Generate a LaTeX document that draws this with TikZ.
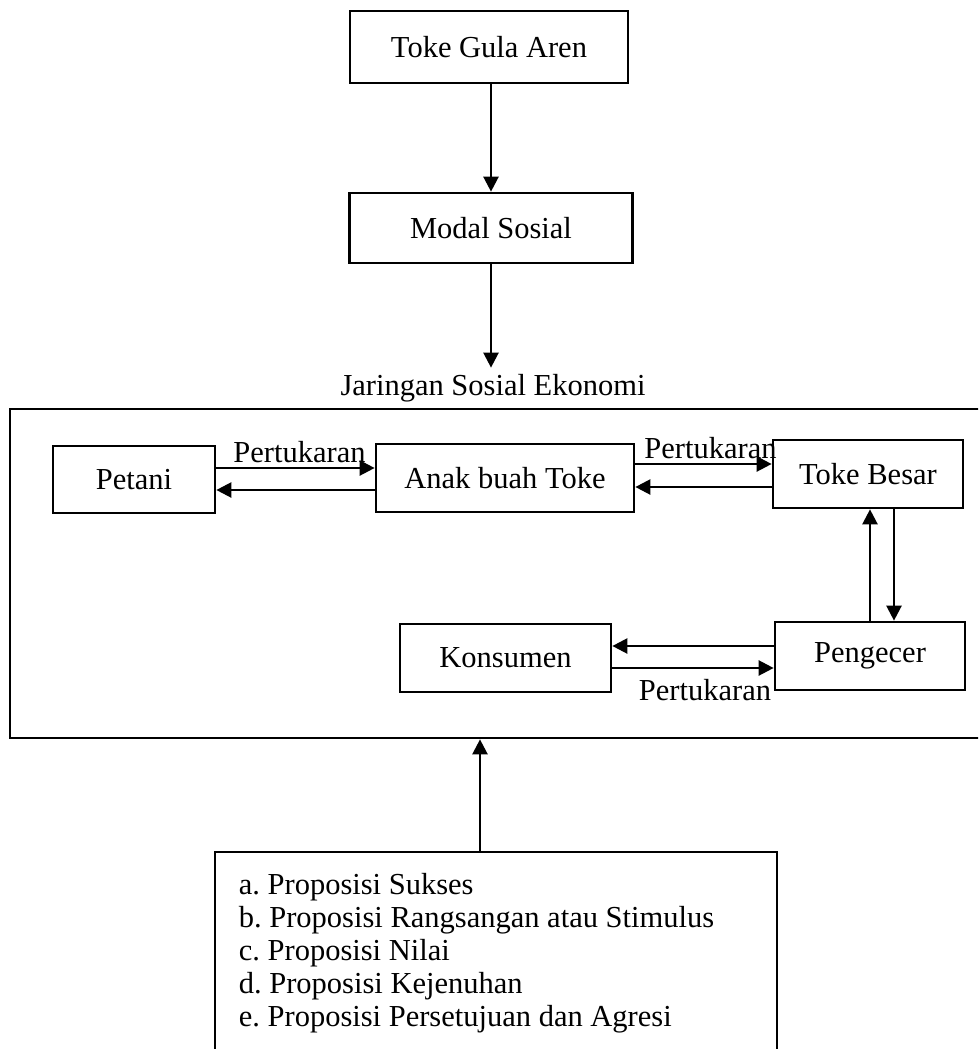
\documentclass[tikz,border=0pt]{standalone}
\usepackage{fontspec}
\setmainfont{Liberation Serif}
\usetikzlibrary{arrows.meta}
\frenchspacing
\newcommand{\diagfont}{\fontsize{30.5}{33}\selectfont}
\tikzset{
  boxnode/.style={draw, line width=2.7pt, inner sep=0pt, font=\diagfont},
  plain/.style={inner sep=0pt, font=\diagfont},
  arr/.style={line width=2.4pt, -{Triangle[length=15pt,width=15pt]}},
}
\begin{document}
\begin{tikzpicture}[x=1pt,y=-1pt]
\useasboundingbox (0,0) rectangle (978,1049);
\clip (0,0) rectangle (978,1049);
\fill[white] (0,0) rectangle (978,1049);

% top chain
\node[boxnode, minimum width=278pt, minimum height=72pt] (toke) at (489,47) {Toke Gula Aren};
\node[boxnode, minimum width=283pt, minimum height=70pt] (modal) at (491,228) {Modal Sosial};
\node[plain, anchor=base] (jar) at (493,395) {Jaringan Sosial Ekonomi};

\draw[arr] (modal.north |- toke.south) -- (modal.north);
\coordinate (jn) at ([yshift=6pt]jar.north);
\draw[arr] (modal.south) -- (modal.south |- jn);

% network frame
\node[boxnode, minimum width=980pt, minimum height=329pt] (net) at (500,573.5) {};

\node[boxnode, minimum width=162pt, minimum height=67pt] (petani) at (134,479.5) {Petani};
\node[boxnode, minimum width=258pt, minimum height=68pt] (anak) at (505,478) {Anak buah Toke};
\node[boxnode, minimum width=190pt, minimum height=68pt] (besar) at (868,474) {Toke Besar};
\node[boxnode, minimum width=211pt, minimum height=68pt] (konsumen) at (505.5,658) {Konsumen};
\node[boxnode, minimum width=190pt, minimum height=68pt] (pengecer) at (870,656) {Pengecer};

% Petani <-> Anak buah Toke
\coordinate (a1) at ([yshift=10pt]anak.west);
\coordinate (a2) at ([yshift=-12pt]anak.west);
\draw[arr] (a1 -| petani.east) -- node[plain, anchor=base, yshift=6pt, xshift=4pt] (p1) {Pertukaran} (a1);
\draw[arr] (a2) -- (a2 -| petani.east);

% Anak buah Toke <-> Toke Besar
\coordinate (b1) at ([yshift=14pt]anak.east);
\coordinate (b2) at ([yshift=-9pt]anak.east);
\draw[arr] (b1) -- node[plain, anchor=base, yshift=6pt, xshift=7pt] (p2) {Pertukaran} (b1 -| besar.west);
\draw[arr] (b2 -| besar.west) -- (b2);

% Toke Besar <-> Pengecer
\coordinate (d1) at ([xshift=24pt]pengecer.north);
\draw[arr] (pengecer.north) -- (pengecer.north |- besar.south);
\draw[arr] (d1 |- besar.south) -- (d1);

% Pengecer <-> Konsumen
\coordinate (c1) at ([yshift=10pt]pengecer.west);
\coordinate (c2) at ([yshift=-12pt]pengecer.west);
\draw[arr] (c1) -- (c1 -| konsumen.east);
\draw[arr] (c2 -| konsumen.east) -- node[plain, anchor=base, yshift=-32pt, xshift=12pt] (p3) {Pertukaran} (c2);

% propositions
\node[boxnode, minimum width=562pt, minimum height=228pt] (prop) at (496,966) {};
\node[plain, anchor=north west, align=left] (list) at ([xshift=25pt,yshift=-22pt]prop.north west)
  {a. Proposisi Sukses\\
   b. Proposisi Rangsangan atau Stimulus\\
   c. Proposisi Nilai\\
   d. Proposisi Kejenuhan\\
   e. Proposisi Persetujuan dan Agresi};

\coordinate (e1) at ([xshift=-16pt]prop.north);
\draw[arr] (e1) -- (e1 |- net.south);
\end{tikzpicture}
\end{document}
